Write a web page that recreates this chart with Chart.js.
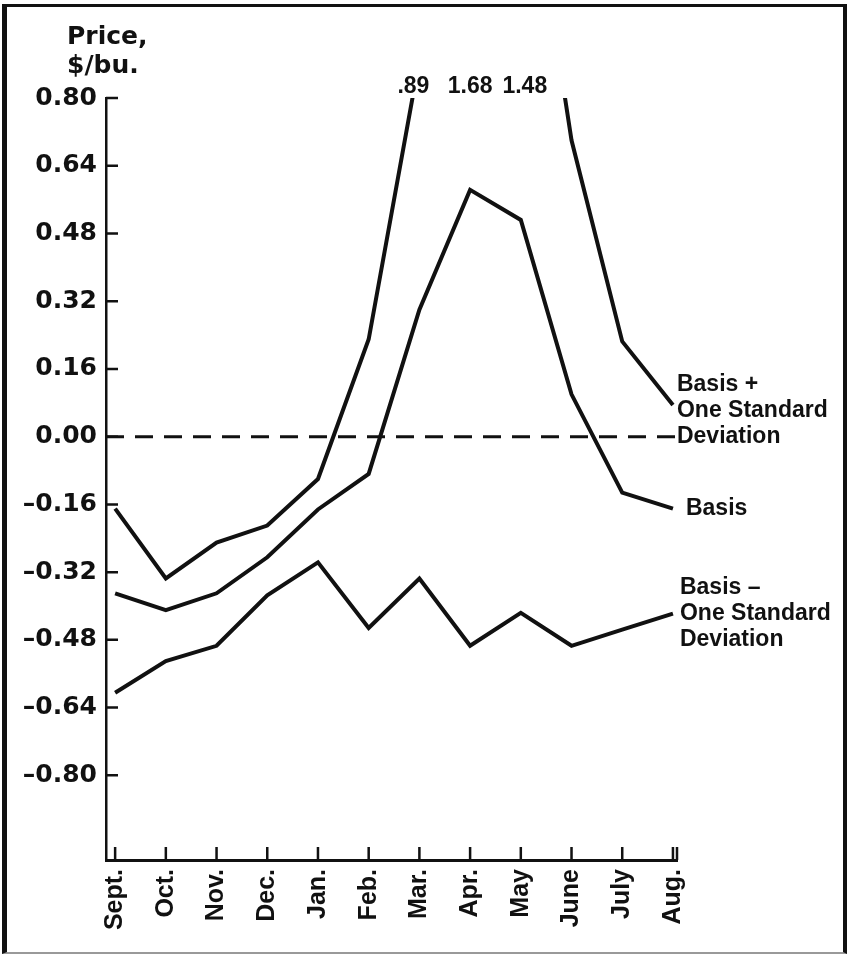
<!DOCTYPE html>
<html>
<head>
<meta charset="utf-8">
<script src="https://cdn.jsdelivr.net/npm/chart.js@4/dist/chart.umd.min.js"></script>
<style>
  html, body { margin: 0; padding: 0; background: #fff; }
  #wrap { position: relative; width: 850px; height: 955px; }
  #frame {
    position: absolute; left: 2px; top: 4px; width: 845px; height: 950px;
    box-sizing: border-box; pointer-events: none;
    border-left: 5px solid #111; border-top: 3px solid #111;
    border-right: 4px solid #111; border-bottom: 2px solid #999;
  }
</style>
</head>
<body>
<div id="wrap">
  <canvas id="chart" width="850" height="955"></canvas>
  <div id="frame"></div>
</div>
<script>
const MONTHS = ["Sept.", "Oct.", "Nov.", "Dec.", "Jan.", "Feb.", "Mar.", "Apr.", "May", "June", "July", "Aug."];
const Y_TICKS = [0.80, 0.64, 0.48, 0.32, 0.16, 0.00, -0.16, -0.32, -0.48, -0.64, -0.80];
const Y_MIN = -1.0;
const Y_MAX = 0.80;

// basis + one standard deviation (Mar-May run off the top of the chart)
const UPPER = [-0.17, -0.335, -0.25, -0.21, -0.10, 0.23, 0.89, 1.68, 1.48, 0.70, 0.225, 0.075];
// average basis
const BASIS = [-0.37, -0.41, -0.37, -0.285, -0.172, -0.088, 0.30, 0.583, 0.512, 0.10, -0.132, -0.17];
// basis - one standard deviation
const LOWER = [-0.605, -0.53, -0.494, -0.375, -0.297, -0.452, -0.335, -0.494, -0.416, -0.494, -0.456, -0.418];

const SERIES_LABELS = [
  ["Basis +", "One Standard", "Deviation"],
  ["Basis"],
  ["Basis \u2013", "One Standard", "Deviation"],
];

const INK = "#111";
const NUM_FONT = "bold 25px 'DejaVu Sans'";
const TXT_FONT = "bold 23px 'Liberation Sans'";

function toPoints(values) {
  return values.map((v, i) => ({ x: i, y: v }));
}

function fmt(v) {
  const s = Math.abs(v).toFixed(2);
  return v < 0 ? "\u2013" + s : s;
}

const decorations = {
  id: "decorations",
  beforeDatasetsDraw(chart) {
    const { ctx, chartArea: a, scales: { y } } = chart;
    const y0 = y.getPixelForValue(0);
    ctx.save();
    ctx.strokeStyle = INK;
    ctx.lineWidth = 3;
    ctx.setLineDash([18, 11]);
    ctx.beginPath();
    ctx.moveTo(a.left, y0);
    ctx.lineTo(a.right, y0);
    ctx.stroke();
    ctx.restore();
  },
  afterDraw(chart) {
    const { ctx, chartArea: a, scales: { x, y } } = chart;
    ctx.save();
    ctx.strokeStyle = INK;
    ctx.fillStyle = INK;
    ctx.lineWidth = 2.5;

    // inward tick marks
    ctx.beginPath();
    y.ticks.forEach((t) => {
      const py = y.getPixelForValue(t.value);
      ctx.moveTo(a.left, py);
      ctx.lineTo(a.left + 12, py);
    });
    x.ticks.forEach((t) => {
      const px = x.getPixelForValue(t.value);
      ctx.moveTo(px, a.bottom);
      ctx.lineTo(px, a.bottom - 13);
    });
    ctx.moveTo(a.right, a.bottom);
    ctx.lineTo(a.right, a.bottom - 13);
    ctx.stroke();

    // axis title
    ctx.font = NUM_FONT;
    ctx.textAlign = "left";
    ctx.textBaseline = "alphabetic";
    ctx.fillText("Price,", 67, 44);
    ctx.fillText("$/bu.", 67, 73);

    // values of the upper curve that run off the top
    ctx.font = "bold 23px 'Liberation Sans'";
    ctx.textAlign = "center";
    UPPER.forEach((v, i) => {
      if (v > Y_MAX) {
        const txt = v < 1 ? v.toFixed(2).replace(/^0/, "") : v.toFixed(2);
        const shift = v < 1 ? -6 : (i === 8 ? 4 : 0);
        ctx.fillText(txt, x.getPixelForValue(i) + shift, 93);
      }
    });

    // end-of-line labels
    ctx.font = TXT_FONT;
    ctx.textAlign = "left";
    ctx.textBaseline = "middle";
    const last = MONTHS.length - 1;
    const ends = [UPPER[last], BASIS[last], LOWER[last]];
    const dx = [4, 13, 7];
    const dy = [6, 0, 0];
    SERIES_LABELS.forEach((lines, k) => {
      const px = x.getPixelForValue(last) + dx[k];
      const py = y.getPixelForValue(ends[k]) + dy[k];
      const mid = (lines.length - 1) / 2;
      lines.forEach((line, j) => {
        ctx.fillText(line, px, py + (j - mid) * 26);
      });
    });
    ctx.restore();
  },
};

const lineStyle = {
  borderColor: INK,
  borderWidth: 4,
  pointRadius: 0,
  tension: 0,
  fill: false,
};

new Chart(document.getElementById("chart"), {
  type: "line",
  data: {
    datasets: [
      { label: "Basis + One Standard Deviation", data: toPoints(UPPER), ...lineStyle },
      { label: "Basis", data: toPoints(BASIS), ...lineStyle },
      { label: "Basis - One Standard Deviation", data: toPoints(LOWER), ...lineStyle },
    ],
  },
  options: {
    responsive: false,
    animation: false,
    devicePixelRatio: 1,
    layout: { padding: { top: 98, right: 173, left: 0, bottom: 0 } },
    plugins: { legend: { display: false }, tooltip: { enabled: false } },
    scales: {
      x: {
        type: "linear",
        min: -0.18,
        max: 11.08,
        afterFit: (s) => { s.height = 95; },
        afterBuildTicks: (s) => { s.ticks = MONTHS.map((m, i) => ({ value: i })); },
        grid: { display: false, drawTicks: false },
        border: { color: INK, width: 3 },
        ticks: {
          autoSkip: false,
          minRotation: 90,
          maxRotation: 90,
          padding: 9,
          color: INK,
          font: { family: "'Liberation Sans'", size: 25, weight: "bold" },
          callback: (v) => MONTHS[v],
        },
      },
      y: {
        min: Y_MIN,
        max: Y_MAX,
        afterFit: (s) => { s.width = 106; },
        afterBuildTicks: (s) => { s.ticks = Y_TICKS.map((v) => ({ value: v })); },
        grid: { display: false, drawTicks: false },
        border: { color: INK, width: 2.5 },
        ticks: {
          padding: 9,
          color: INK,
          font: { family: "'DejaVu Sans'", size: 25, weight: "bold" },
          callback: (v) => fmt(v),
        },
      },
    },
  },
  plugins: [decorations],
});
</script>
</body>
</html>
